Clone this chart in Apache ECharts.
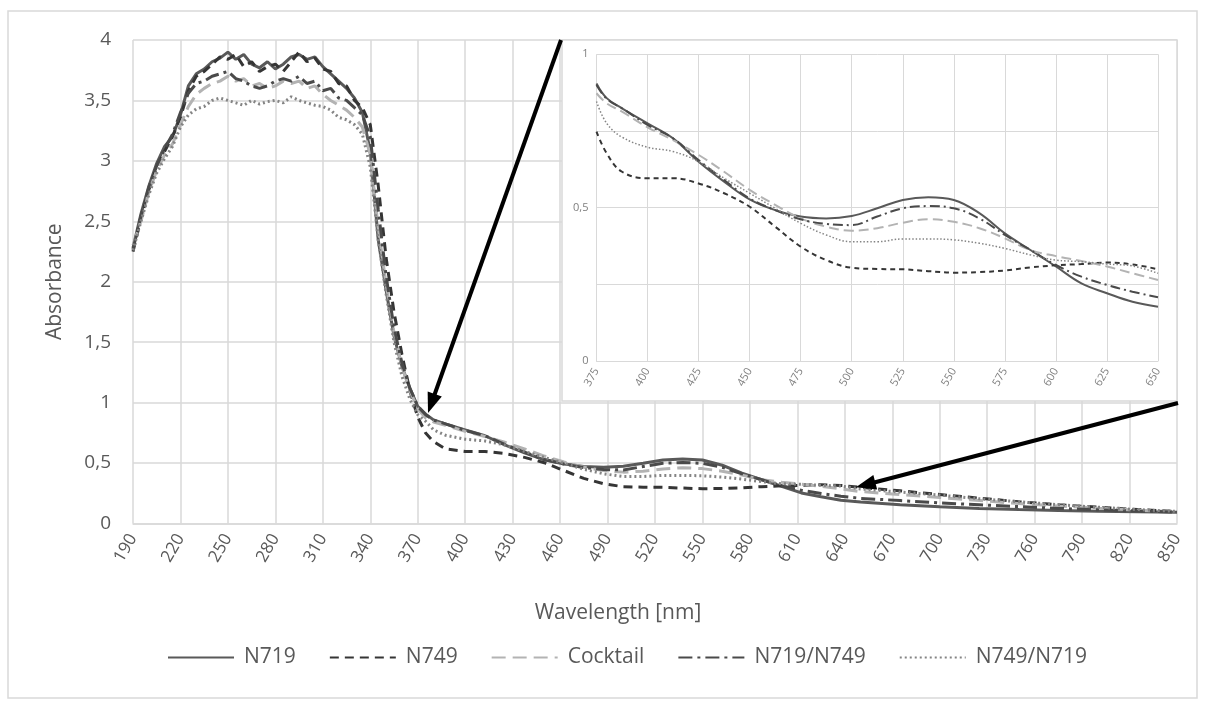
<!DOCTYPE html>
<html><head><meta charset="utf-8">
<script src="https://cdn.jsdelivr.net/npm/echarts@6/dist/echarts.min.js"></script>
<style>html,body{margin:0;padding:0;background:#fff}#c{width:1205px;height:707px}</style>
</head><body><div id="c"></div>
<script>
// ---------- DATA ----------
const WAVELENGTH = [
  190,195,200,205,210,215,220,225,230,235,240,245,250,255,260,265,270,275,280,285,290,295,300,305,310,315,320,325,330,335,340,345,350,355,360,365,370,
  375,380,387.5,400,412.5,425,437.5,450,462.5,475,487.5,500,512.5,525,537.5,550,562.5,575,587.5,600,612.5,625,637.5,650,
  675,700,725,750,775,800,825,850
];
const N719 = [
  2.28,2.56,2.79,2.98,3.12,3.20,3.38,3.62,3.72,3.76,3.82,3.85,3.90,3.84,3.88,3.80,3.77,3.82,3.76,3.80,3.86,3.88,3.84,3.86,3.78,3.72,3.66,3.60,3.52,3.40,3.08,2.35,1.93,1.55,1.30,1.12,0.97,
  0.905,0.857,0.824,0.775,0.726,0.650,0.585,0.527,0.492,0.471,0.465,0.473,0.498,0.525,0.534,0.525,0.482,0.416,0.362,0.308,0.253,0.221,0.193,0.177,
  0.155,0.138,0.125,0.115,0.107,0.101,0.097,0.094
];
const N749 = [
  2.25,2.52,2.76,2.95,3.08,3.20,3.36,3.58,3.70,3.74,3.80,3.86,3.84,3.88,3.78,3.82,3.74,3.78,3.80,3.74,3.82,3.90,3.82,3.85,3.76,3.74,3.64,3.62,3.50,3.44,3.30,2.80,2.20,1.75,1.40,1.10,0.88,
  0.748,0.677,0.617,0.596,0.596,0.579,0.547,0.503,0.438,0.373,0.329,0.304,0.300,0.299,0.293,0.288,0.290,0.295,0.305,0.312,0.316,0.321,0.315,0.299,
  0.270,0.240,0.210,0.180,0.155,0.135,0.115,0.100
];
const COCKTAIL = [
  2.30,2.50,2.74,2.92,3.05,3.14,3.30,3.45,3.55,3.60,3.64,3.66,3.70,3.66,3.68,3.62,3.64,3.60,3.62,3.66,3.64,3.66,3.60,3.62,3.55,3.50,3.46,3.42,3.36,3.28,3.05,2.45,1.98,1.58,1.30,1.10,0.95,
  0.873,0.840,0.813,0.762,0.720,0.672,0.617,0.558,0.509,0.465,0.438,0.425,0.433,0.451,0.462,0.454,0.433,0.400,0.362,0.342,0.326,0.308,0.286,0.264,
  0.240,0.215,0.190,0.165,0.145,0.127,0.110,0.097
];
const N719_N749 = [
  2.27,2.54,2.78,2.96,3.10,3.22,3.40,3.56,3.64,3.66,3.70,3.72,3.74,3.68,3.66,3.62,3.60,3.62,3.66,3.68,3.66,3.70,3.64,3.66,3.58,3.60,3.52,3.50,3.44,3.38,3.20,2.60,2.05,1.62,1.33,1.12,0.97,
  0.900,0.855,0.824,0.770,0.726,0.655,0.590,0.530,0.492,0.462,0.447,0.443,0.471,0.498,0.505,0.498,0.465,0.411,0.362,0.313,0.275,0.248,0.226,0.208,
  0.190,0.170,0.155,0.140,0.125,0.113,0.103,0.095
];
const N749_N719 = [
  2.26,2.50,2.72,2.90,3.02,3.12,3.28,3.38,3.43,3.45,3.50,3.52,3.50,3.48,3.46,3.50,3.47,3.49,3.50,3.48,3.53,3.50,3.48,3.46,3.45,3.42,3.36,3.34,3.30,3.22,2.95,2.35,1.90,1.50,1.22,1.03,0.90,
  0.846,0.775,0.730,0.697,0.683,0.650,0.596,0.547,0.498,0.449,0.411,0.389,0.389,0.398,0.398,0.395,0.384,0.367,0.346,0.329,0.324,0.316,0.310,0.286,
  0.260,0.235,0.205,0.180,0.155,0.135,0.115,0.100
];
const SERIES_NAMES = ['N719', 'N749', 'Cocktail', 'N719/N749', 'N749/N719'];
const SERIES_VALUES = [N719, N749, COCKTAIL, N719_N749, N749_N719];

// axes
const MAIN_X_MIN = 190, MAIN_X_MAX = 850, MAIN_X_STEP = 30;
const MAIN_Y_MIN = 0, MAIN_Y_MAX = 4, MAIN_Y_STEP = 0.5;
const INSET_X_MIN = 375, INSET_X_MAX = 650, INSET_X_STEP = 25;
const INSET_Y_MIN = 0, INSET_Y_MAX = 1, INSET_Y_STEP = 0.25;
const INSET_Y_LABELS = [0, 0.5, 1];
const X_TITLE = 'Wavelength [nm]';
const Y_TITLE = 'Absorbance';
// arrow targets (data space)
const ARROW_TARGETS = [[376.5, 0.915], [647, 0.30]];

// ---------- STYLE ----------
const FONT = '"Open Sans", "Noto Sans", sans-serif';
const TXT = '#595959';
const GRID_C = '#d9d9d9';
const STYLES = [
  {color: '#595959', type: 'solid', w: 3, iw: 2, itype: 'solid'},
  {color: '#353535', type: [9, 6], w: 3, iw: 2, itype: [5, 4]},
  {color: '#b3b3b3', type: [14, 7], w: 3, iw: 2, itype: [10, 5]},
  {color: '#4a4a4a', type: [14, 5, 3, 5], w: 3, iw: 2, itype: [10, 4, 2, 4]},
  {color: '#848484', type: [2, 3], w: 3, iw: 1.5, itype: [1.5, 2]}
];
const comma = v => String(v).replace('.', ',');

const chart = echarts.init(document.getElementById('c'), null, {renderer: 'canvas'});

const series = [];
SERIES_NAMES.forEach((name, i) => {
  const st = STYLES[i];
  series.push({
    name, type: 'line', xAxisIndex: 0, yAxisIndex: 0,
    data: WAVELENGTH.map((w, k) => [w - MAIN_X_MIN, SERIES_VALUES[i][k]]),
    showSymbol: false, symbol: 'none', smooth: false, z: 2,
    lineStyle: {color: st.color, width: st.w, type: st.type},
    itemStyle: {color: st.color}
  });
});
SERIES_NAMES.forEach((name, i) => {
  const st = STYLES[i];
  const pts = [];
  WAVELENGTH.forEach((w, k) => { if (w >= INSET_X_MIN && w <= INSET_X_MAX) pts.push([w, SERIES_VALUES[i][k]]); });
  series.push({
    name, type: 'line', xAxisIndex: 1, yAxisIndex: 1,
    data: pts, showSymbol: false, symbol: 'none', smooth: 0.4, z: 4,
    lineStyle: {color: st.color, width: st.iw, type: st.itype},
    itemStyle: {color: st.color}
  });
});

const option = {
  backgroundColor: '#fff',
  animation: false,
  textStyle: {fontFamily: FONT},
  grid: [
    {left: 133, top: 40, width: 1044, height: 483.5, containLabel: false},
    {left: 596.5, top: 54.3, width: 561.5, height: 306.7, containLabel: false}
  ],
  xAxis: [
    {
      type: 'value', gridIndex: 0, min: 0, max: MAIN_X_MAX - MAIN_X_MIN, interval: MAIN_X_STEP,
      axisLine: {show: true, lineStyle: {color: GRID_C, width: 1.5}},
      axisTick: {show: false},
      splitLine: {show: true, lineStyle: {color: GRID_C, width: 1.5}},
      axisLabel: {formatter: v => String(v + MAIN_X_MIN), rotate: 60, margin: 12, color: TXT, fontSize: 17, fontFamily: FONT}
    },
    {
      type: 'value', gridIndex: 1, min: INSET_X_MIN, max: INSET_X_MAX, interval: INSET_X_STEP, z: 3,
      axisLine: {show: true, lineStyle: {color: GRID_C, width: 1}},
      axisTick: {show: false},
      splitLine: {show: true, lineStyle: {color: GRID_C, width: 1}},
      axisLabel: {rotate: 60, margin: 8, color: '#7f7f7f', fontSize: 11, fontFamily: FONT}
    }
  ],
  yAxis: [
    {
      type: 'value', gridIndex: 0, min: MAIN_Y_MIN, max: MAIN_Y_MAX, interval: MAIN_Y_STEP,
      axisLine: {show: false}, axisTick: {show: false},
      splitLine: {show: true, lineStyle: {color: GRID_C, width: 1.5}},
      axisLabel: {formatter: v => comma(v), margin: 22, color: TXT, fontSize: 19, fontFamily: FONT},
      name: Y_TITLE, nameLocation: 'middle', nameGap: 67,
      nameTextStyle: {color: TXT, fontSize: 21, fontFamily: FONT}
    },
    {
      type: 'value', gridIndex: 1, min: INSET_Y_MIN, max: INSET_Y_MAX, interval: INSET_Y_STEP, z: 3,
      axisLine: {show: false}, axisTick: {show: false},
      splitLine: {show: true, lineStyle: {color: GRID_C, width: 1}},
      axisLabel: {formatter: v => INSET_Y_LABELS.includes(v) ? comma(v) : '', margin: 8, color: '#7f7f7f', fontSize: 11, fontFamily: FONT}
    }
  ],
  legend: {
    data: SERIES_NAMES, left: 162, top: 642, orient: 'horizontal',
    itemWidth: 66, itemHeight: 14, itemGap: 33,
    itemStyle: {opacity: 0},
    textStyle: {color: TXT, fontSize: 21, fontFamily: FONT, padding: [0, 0, 0, 5]}
  },
  series
};
chart.setOption(option);

// ---------- ANNOTATIONS ----------
function arrow(tail, tip, w, L, W) {
  const dx = tip[0] - tail[0], dy = tip[1] - tail[1];
  const len = Math.hypot(dx, dy), ux = dx / len, uy = dy / len, nx = -uy, ny = ux;
  const bx = tip[0] - ux * L, by = tip[1] - uy * L;
  return [
    {type: 'line', z: 20, shape: {x1: tail[0], y1: tail[1], x2: tip[0] - ux * L * 0.7, y2: tip[1] - uy * L * 0.7},
      style: {stroke: '#000', lineWidth: w}},
    {type: 'polygon', z: 20, shape: {points: [[tip[0], tip[1]], [bx + nx * W / 2, by + ny * W / 2], [bx - nx * W / 2, by - ny * W / 2]]},
      style: {fill: '#000'}}
  ];
}
const tip1 = chart.convertToPixel({xAxisIndex: 0, yAxisIndex: 0}, [ARROW_TARGETS[0][0] - MAIN_X_MIN, ARROW_TARGETS[0][1]]);
const tip2 = chart.convertToPixel({xAxisIndex: 0, yAxisIndex: 0}, [ARROW_TARGETS[1][0] - MAIN_X_MIN, ARROW_TARGETS[1][1]]);

chart.setOption({
  graphic: [
    {type: 'rect', z: 0, shape: {x: 8, y: 11, width: 1189, height: 687}, style: {fill: 'none', stroke: GRID_C, lineWidth: 1.5}},
    {type: 'rect', z: 1, shape: {x: 562, y: 40, width: 615, height: 361}, style: {fill: '#fff', stroke: GRID_C, lineWidth: 1.5}},
    {type: 'text', z: 5, x: 618, y: 613, style: {text: X_TITLE, fill: TXT, font: '21px ' + FONT, align: 'center', verticalAlign: 'middle'}},
    ...arrow([561, 40], tip1, 4, 20, 15),
    ...arrow([1178, 403], tip2, 4, 20, 15)
  ]
});
</script>
</body></html>
